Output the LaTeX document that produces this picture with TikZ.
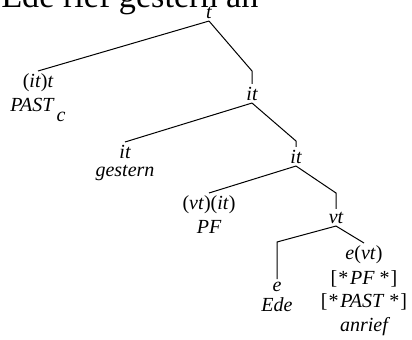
\documentclass[tikz,border=0pt]{standalone}
\usepackage{fontspec}
\setmainfont{Liberation Serif}
\usepackage{tikz}

\newcommand{\up}[1]{\textup{#1}}
\newcommand{\lblfont}{\fontsize{12}{0}\itshape\selectfont
  \lineskiplimit=0pt\lineskip=4pt}

\begin{document}
\begin{tikzpicture}[x=0.6pt,y=-0.6pt]
  \tikzstyle{LabelStyle}=[inner sep=1.5pt,anchor=base,align=center,font=\lblfont]
  \tikzstyle{LeafStyle}=[LabelStyle,anchor=north]
  \tikzstyle{EdgeStyle}=[line width=0.6pt]
  \useasboundingbox (0,0) rectangle (412,340);
  \node[anchor=base west,inner sep=0pt,font=\fontsize{20.5}{24}\selectfont]
    (title) at (1,8) {Ede rief gestern an};
  \node[LabelStyle] (t)    at (209,18)  {t};
  \node[LeafStyle]  (past) at (38,71)   {\up{(}it\up{)}t\\PAST\kern2pt\raisebox{-6pt}{c}};
  \node[LabelStyle] (it1)  at (252,100) {it};
  \node[LeafStyle]  (gest) at (125,142) {it\\gestern};
  \node[LabelStyle] (it2)  at (296,163) {it};
  \node[LeafStyle]  (pf)   at (209,193) {\up{(}vt\up{)(}it\up{)}\\PF};
  \node[LabelStyle] (vt)   at (336,223) {vt};
  \node[LeafStyle]  (ede)  at (277,279) {e\\Ede};
  \node[LeafStyle]  (anr)  at (364,243) {e\up{(}vt\up{)}\\\up{[\kern0.6pt*}\kern1pt PF\/\ \up{*\kern0.6pt]}\\\up{[\kern0.6pt*}\kern1pt PAST\/\ \up{*\kern0.6pt]}\\anrief};
  % bends above the right daughters
  \coordinate (b1) at (252,71);
  \coordinate (b2) at (296,141);
  \coordinate (b3) at (336,193);
  \coordinate (b4) at (277,242);
  \draw[EdgeStyle] (t.south) -- (past.north);
  \draw[EdgeStyle] (t.south) -- (b1) -- (it1.north);
  \draw[EdgeStyle] (it1.south) -- (gest.north);
  \draw[EdgeStyle] (it1.south) -- (b2) -- (it2.north);
  \draw[EdgeStyle] (it2.south) -- (pf.north);
  \draw[EdgeStyle] (it2.south) -- (b3) -- (vt.north);
  \draw[EdgeStyle] (vt.south) -- (b4) -- (ede.north);
  \draw[EdgeStyle] (vt.south) -- (anr.north);
\end{tikzpicture}
\end{document}
